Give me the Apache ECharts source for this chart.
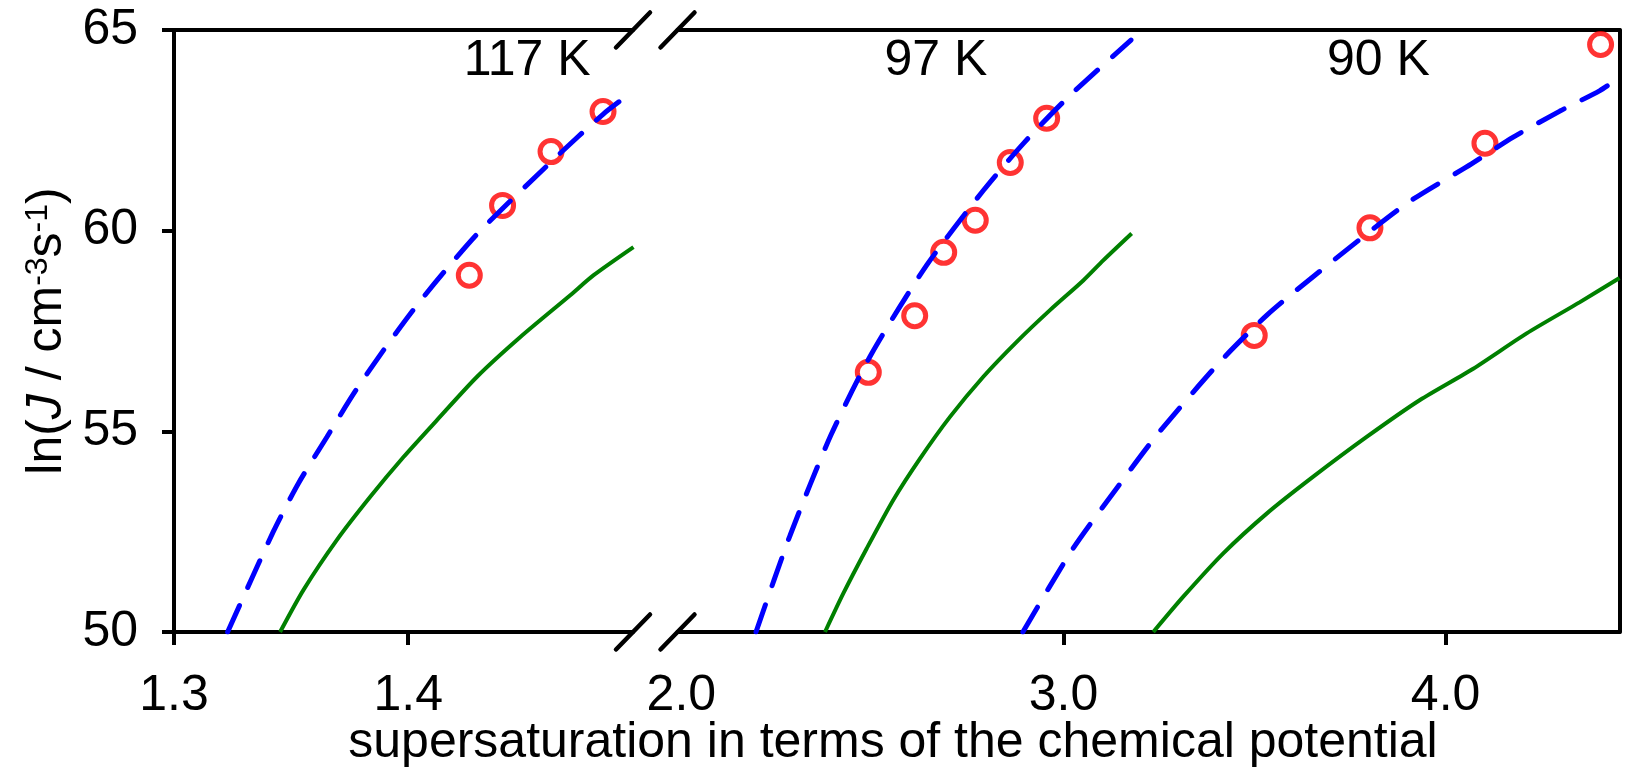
<!DOCTYPE html>
<html><head><meta charset="utf-8">
<script src="https://cdn.jsdelivr.net/npm/echarts@6/dist/echarts.min.js"></script>
<style>html,body{margin:0;padding:0;background:#fff}#c{width:1628px;height:772px}</style>
</head><body><div id="c"></div>
<script>
// ---------------- data ----------------
const tempLabels = ['117 K', '97 K', '90 K'];
const tempLabelX = [1.4508, 2.6664, 3.8242];
const tempLabelY = [64.23, 64.23, 64.23];

const leftTickLabels = [1.3, 1.4];
const rightTickLabels = [2.0, 3.0, 4.0];
const rightTickMarks = [3.0, 4.0];

// experiment (open circles)
const exp117X = [1.4261, 1.4403, 1.4610, 1.4832];
const exp117Y = [58.89, 60.63, 61.97, 62.97];
const exp97X = [2.4893, 2.6107, 2.6866, 2.7692, 2.8608, 2.9560];
const exp97Y = [56.47, 57.88, 59.46, 60.26, 61.70, 62.80];
const exp90X = [3.4992, 3.8020, 4.1029, 4.4055];
const exp90Y = [57.39, 60.07, 62.18, 64.64];

// fitted curves (blue dashed)
const fit117X = [1.3229, 1.3424, 1.3531, 1.3653, 1.3774, 1.3902, 1.4037, 1.4172, 1.4308, 1.4622, 1.4832, 1.4962];
const fit117Y = [50.00, 52.50, 53.70, 54.86, 56.00, 57.08, 58.14, 59.10, 60.00, 61.78, 62.90, 63.48];
const fit97X = [2.1954, 2.2847, 2.3912, 2.4982, 2.6421, 2.7902, 2.8948, 3.0126, 3.1766];
const fit97Y = [50.00, 52.41, 54.90, 56.94, 59.14, 61.00, 62.17, 63.33, 64.75];
const fit90X = [2.8938, 3.0222, 3.1423, 3.2454, 3.4094, 3.5317, 3.6580, 3.8972, 4.0688, 4.1769, 4.2990, 4.4037, 4.4550];
const fit90Y = [50.00, 52.04, 53.62, 54.92, 56.73, 57.89, 58.89, 60.67, 61.67, 62.33, 62.98, 63.49, 63.82];

// theory curves (green solid)
const th117X = [1.3453, 1.3553, 1.3695, 1.3838, 1.3980, 1.4123, 1.4294, 1.4479, 1.4692, 1.4792, 1.4962];
const th117Y = [50.00, 51.05, 52.29, 53.37, 54.36, 55.28, 56.36, 57.35, 58.39, 58.89, 59.59];
const th97X = [2.3760, 2.4239, 2.4851, 2.5547, 2.6245, 2.7030, 2.7902, 2.8776, 2.9647, 3.0518, 3.1041, 3.1784];
const th97Y = [50.00, 50.96, 52.08, 53.29, 54.32, 55.36, 56.36, 57.23, 58.02, 58.76, 59.26, 59.93];
const th90X = [3.2350, 3.3135, 3.4181, 3.5317, 3.6536, 3.7933, 3.9328, 4.0722, 4.2119, 4.3514, 4.4550];
const th90Y = [50.00, 50.88, 51.96, 52.95, 53.87, 54.86, 55.78, 56.56, 57.44, 58.22, 58.82];

const xTitle = 'supersaturation in terms of the chemical potential';

// axis ranges
const leftMin = 1.3, leftMax = 1.496, rightMin = 1.99, rightMax = 4.455, yMin = 50, yMax = 65;

// ---------------- chart ----------------
const FONT = 'Liberation Sans, Arial, Helvetica, sans-serif';
const FS = 50;
const zip = (a, b) => a.map((v, i) => [v, b[i]]);
const BLACK = '#000';

const lineAxis = {show: true, onZero: false, lineStyle: {color: BLACK, width: 4}};
const noTicks = {show: false};

const chart = echarts.init(document.getElementById('c'));
const option = {
  animation: false,
  backgroundColor: '#fff',
  grid: [
    {left: 174, top: 30, width: 459, height: 602, containLabel: false, outerBoundsMode: 'none'},
    {left: 677.5, top: 30, width: 942, height: 602, containLabel: false, outerBoundsMode: 'none'}
  ],
  xAxis: [
    {gridIndex: 0, type: 'value', position: 'bottom', min: leftMin, max: leftMax,
     axisLine: lineAxis, splitLine: {show: false},
     axisTick: {show: true, customValues: leftTickLabels, length: 13, lineStyle: {color: BLACK, width: 4}},
     axisLabel: {show: true, customValues: leftTickLabels, margin: 39, color: BLACK, fontSize: FS, fontFamily: FONT,
                 formatter: v => Number(v).toFixed(1)}},
    {gridIndex: 0, type: 'value', position: 'top', min: leftMin, max: leftMax,
     axisLine: lineAxis, splitLine: {show: false}, axisTick: noTicks, axisLabel: {show: false}},
    {gridIndex: 1, type: 'value', position: 'bottom', min: rightMin, max: rightMax,
     axisLine: lineAxis, splitLine: {show: false},
     axisTick: {show: true, customValues: rightTickMarks, length: 13, lineStyle: {color: BLACK, width: 4}},
     axisLabel: {show: true, customValues: rightTickLabels, margin: 39, color: BLACK, fontSize: FS, fontFamily: FONT,
                 formatter: v => Number(v).toFixed(1)}},
    {gridIndex: 1, type: 'value', position: 'top', min: rightMin, max: rightMax,
     axisLine: lineAxis, splitLine: {show: false}, axisTick: noTicks, axisLabel: {show: false}}
  ],
  yAxis: [
    {gridIndex: 0, type: 'value', position: 'left', min: yMin, max: yMax, interval: 5,
     axisLine: lineAxis, splitLine: {show: false},
     axisTick: {show: true, length: 12, lineStyle: {color: BLACK, width: 4}},
     axisLabel: {show: true, margin: 36, color: BLACK, fontSize: FS, fontFamily: FONT}},
    {gridIndex: 1, type: 'value', position: 'right', min: yMin, max: yMax, interval: 5,
     axisLine: lineAxis, splitLine: {show: false}, axisTick: noTicks, axisLabel: {show: false}}
  ],
  series: []
};

function scatter(xs, ys, xi, yi) {
  return {type: 'scatter', xAxisIndex: xi, yAxisIndex: yi, data: zip(xs, ys), symbol: 'circle', symbolSize: 22,
          itemStyle: {color: 'rgba(255,255,255,0)', borderColor: '#ff0000', borderWidth: 5}, z: 2, silent: true};
}
function fitLine(xs, ys, xi, yi) {
  return {type: 'line', xAxisIndex: xi, yAxisIndex: yi, data: zip(xs, ys), showSymbol: false,
          smooth: 0.25,
          lineStyle: {color: '#0000ff', width: 5, type: [29, 20], cap: 'round'}, z: 3, silent: true};
}
function thLine(xs, ys, xi, yi) {
  return {type: 'line', xAxisIndex: xi, yAxisIndex: yi, data: zip(xs, ys), showSymbol: false,
          smooth: 0.25,
          lineStyle: {color: '#008000', width: 4}, z: 3, silent: true};
}
option.series.push(
  scatter(exp117X, exp117Y, 0, 0), scatter(exp97X, exp97Y, 2, 1), scatter(exp90X, exp90Y, 2, 1),
  thLine(th117X, th117Y, 0, 0), thLine(th97X, th97Y, 2, 1), thLine(th90X, th90Y, 2, 1),
  fitLine(fit117X, fit117Y, 0, 0), fitLine(fit97X, fit97Y, 2, 1), fitLine(fit90X, fit90Y, 2, 1)
);
chart.setOption(option);

// ---------------- decorations ----------------
const px = (xi, yi, pt) => chart.convertToPixel({xAxisIndex: xi, yAxisIndex: yi}, pt);
const g = [];
const breakCenters = [
  px(0, 0, [leftMax, yMax]), px(0, 0, [leftMax, yMin]),
  px(2, 1, [rightMin, yMax]), px(2, 1, [rightMin, yMin])
];
breakCenters.forEach(c => {
  g.push({type: 'line', z: 100, silent: true,
          shape: {x1: c[0] - 17, y1: c[1] + 17.5, x2: c[0] + 17, y2: c[1] - 17.5},
          style: {stroke: BLACK, lineWidth: 4.5, lineCap: 'round'}});
});
tempLabels.forEach((t, i) => {
  const p = i === 0 ? px(0, 0, [tempLabelX[i], tempLabelY[i]]) : px(2, 1, [tempLabelX[i], tempLabelY[i]]);
  g.push({type: 'text', x: p[0], y: p[1], z: 100, silent: true,
          style: {text: t, fontSize: FS, fontFamily: FONT, fill: BLACK, align: 'center', verticalAlign: 'middle'}});
});
g.push({type: 'text', x: 893, y: 743, z: 100, silent: true,
        style: {text: xTitle, fontSize: FS, fontFamily: FONT, fill: BLACK, align: 'center', verticalAlign: 'middle'}});
g.push({type: 'text', x: 47, y: 331, rotation: Math.PI / 2, z: 100, silent: true,
        style: {text: '{a|ln(}{i|J}{a| / cm}{s|-3}{a|s}{s|-1}{a|)}', fontSize: FS, fontFamily: FONT, fill: BLACK,
                align: 'center', verticalAlign: 'middle',
                rich: {a: {fontSize: FS, fontFamily: FONT, fill: BLACK},
                       i: {fontSize: FS, fontFamily: FONT, fontStyle: 'italic', fill: BLACK},
                       s: {fontSize: 32, fontFamily: FONT, fill: BLACK, verticalAlign: 'top'}}}});
chart.setOption({graphic: g});
</script>
</body></html>
